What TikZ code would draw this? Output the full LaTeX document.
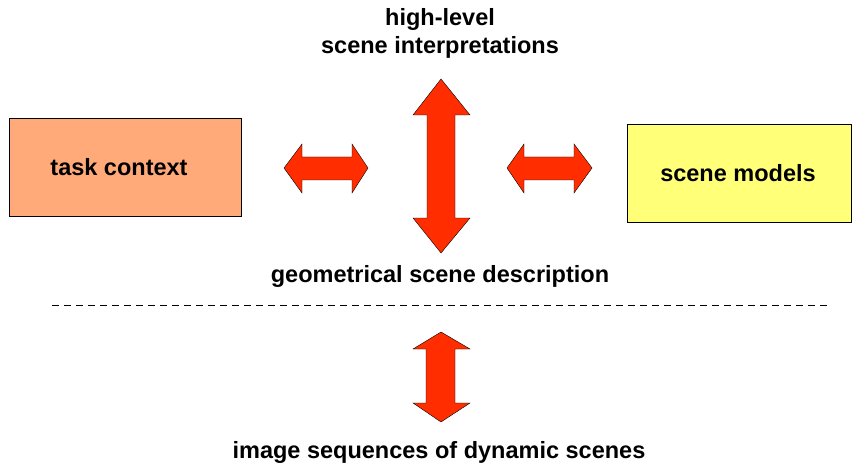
\documentclass[tikz,border=0pt]{standalone}
\usepackage{fontspec}
\setmainfont{Liberation Sans}
\usetikzlibrary{positioning}
\definecolor{arrowred}{RGB}{255,45,0}
\definecolor{taskorange}{RGB}{255,170,120}
\definecolor{modelyellow}{RGB}{255,255,120}
\tikzset{
	label text/.style={font=\fontsize{23.5}{28}\selectfont\bfseries, align=center, inner sep=0pt},
	box/.style={draw, thick, minimum width=232pt, minimum height=98pt, inner sep=0pt},
	blockarrow/.style={fill=arrowred, draw=black, line join=miter},
}
\begin{document}
\begin{tikzpicture}[x=1pt,y=-1pt]
			\useasboundingbox (0,0) rectangle (853,465);
			\node[box, fill=taskorange] (task) at (125,167) {};
			\node[label text] (tasklabel) at (119,167) {task context};
			\node[box, fill=modelyellow, minimum width=224pt] (models) at (739,173) {};
			\node[label text] (modelslabel) at (738,173) {scene models};
			\node[label text] (high) at (440,33) {high-level\\scene interpretations};
			\node[label text] (geo) at (440,276) {geometrical scene description};
			\node[label text] (image) at (439,452) {image sequences of dynamic scenes};
			\draw[dashed, dash pattern=on 7pt off 5pt] (52,305) -- (828,305);
			% block arrows
			\draw[blockarrow] (441,79) -- (470,115) -- (455,115) -- (455,218) -- (470,218) -- (441,253)
			-- (413,218) -- (427,218) -- (427,115) -- (413,115) -- cycle;
			\draw[blockarrow] (284,168) -- (302,144) -- (302,157) -- (352,157) -- (352,144) -- (368,168)
			-- (352,193) -- (352,180) -- (302,180) -- (302,193) -- cycle;
			\draw[blockarrow] (507,168) -- (524,144) -- (524,157) -- (574,157) -- (574,144) -- (592,168)
			-- (574,193) -- (574,180) -- (524,180) -- (524,193) -- cycle;
			\draw[blockarrow] (441,332) -- (470,349) -- (455,349) -- (455,403) -- (470,403) -- (441,422)
			-- (413,403) -- (426,403) -- (426,349) -- (413,349) -- cycle;
		\end{tikzpicture}
\end{document}
